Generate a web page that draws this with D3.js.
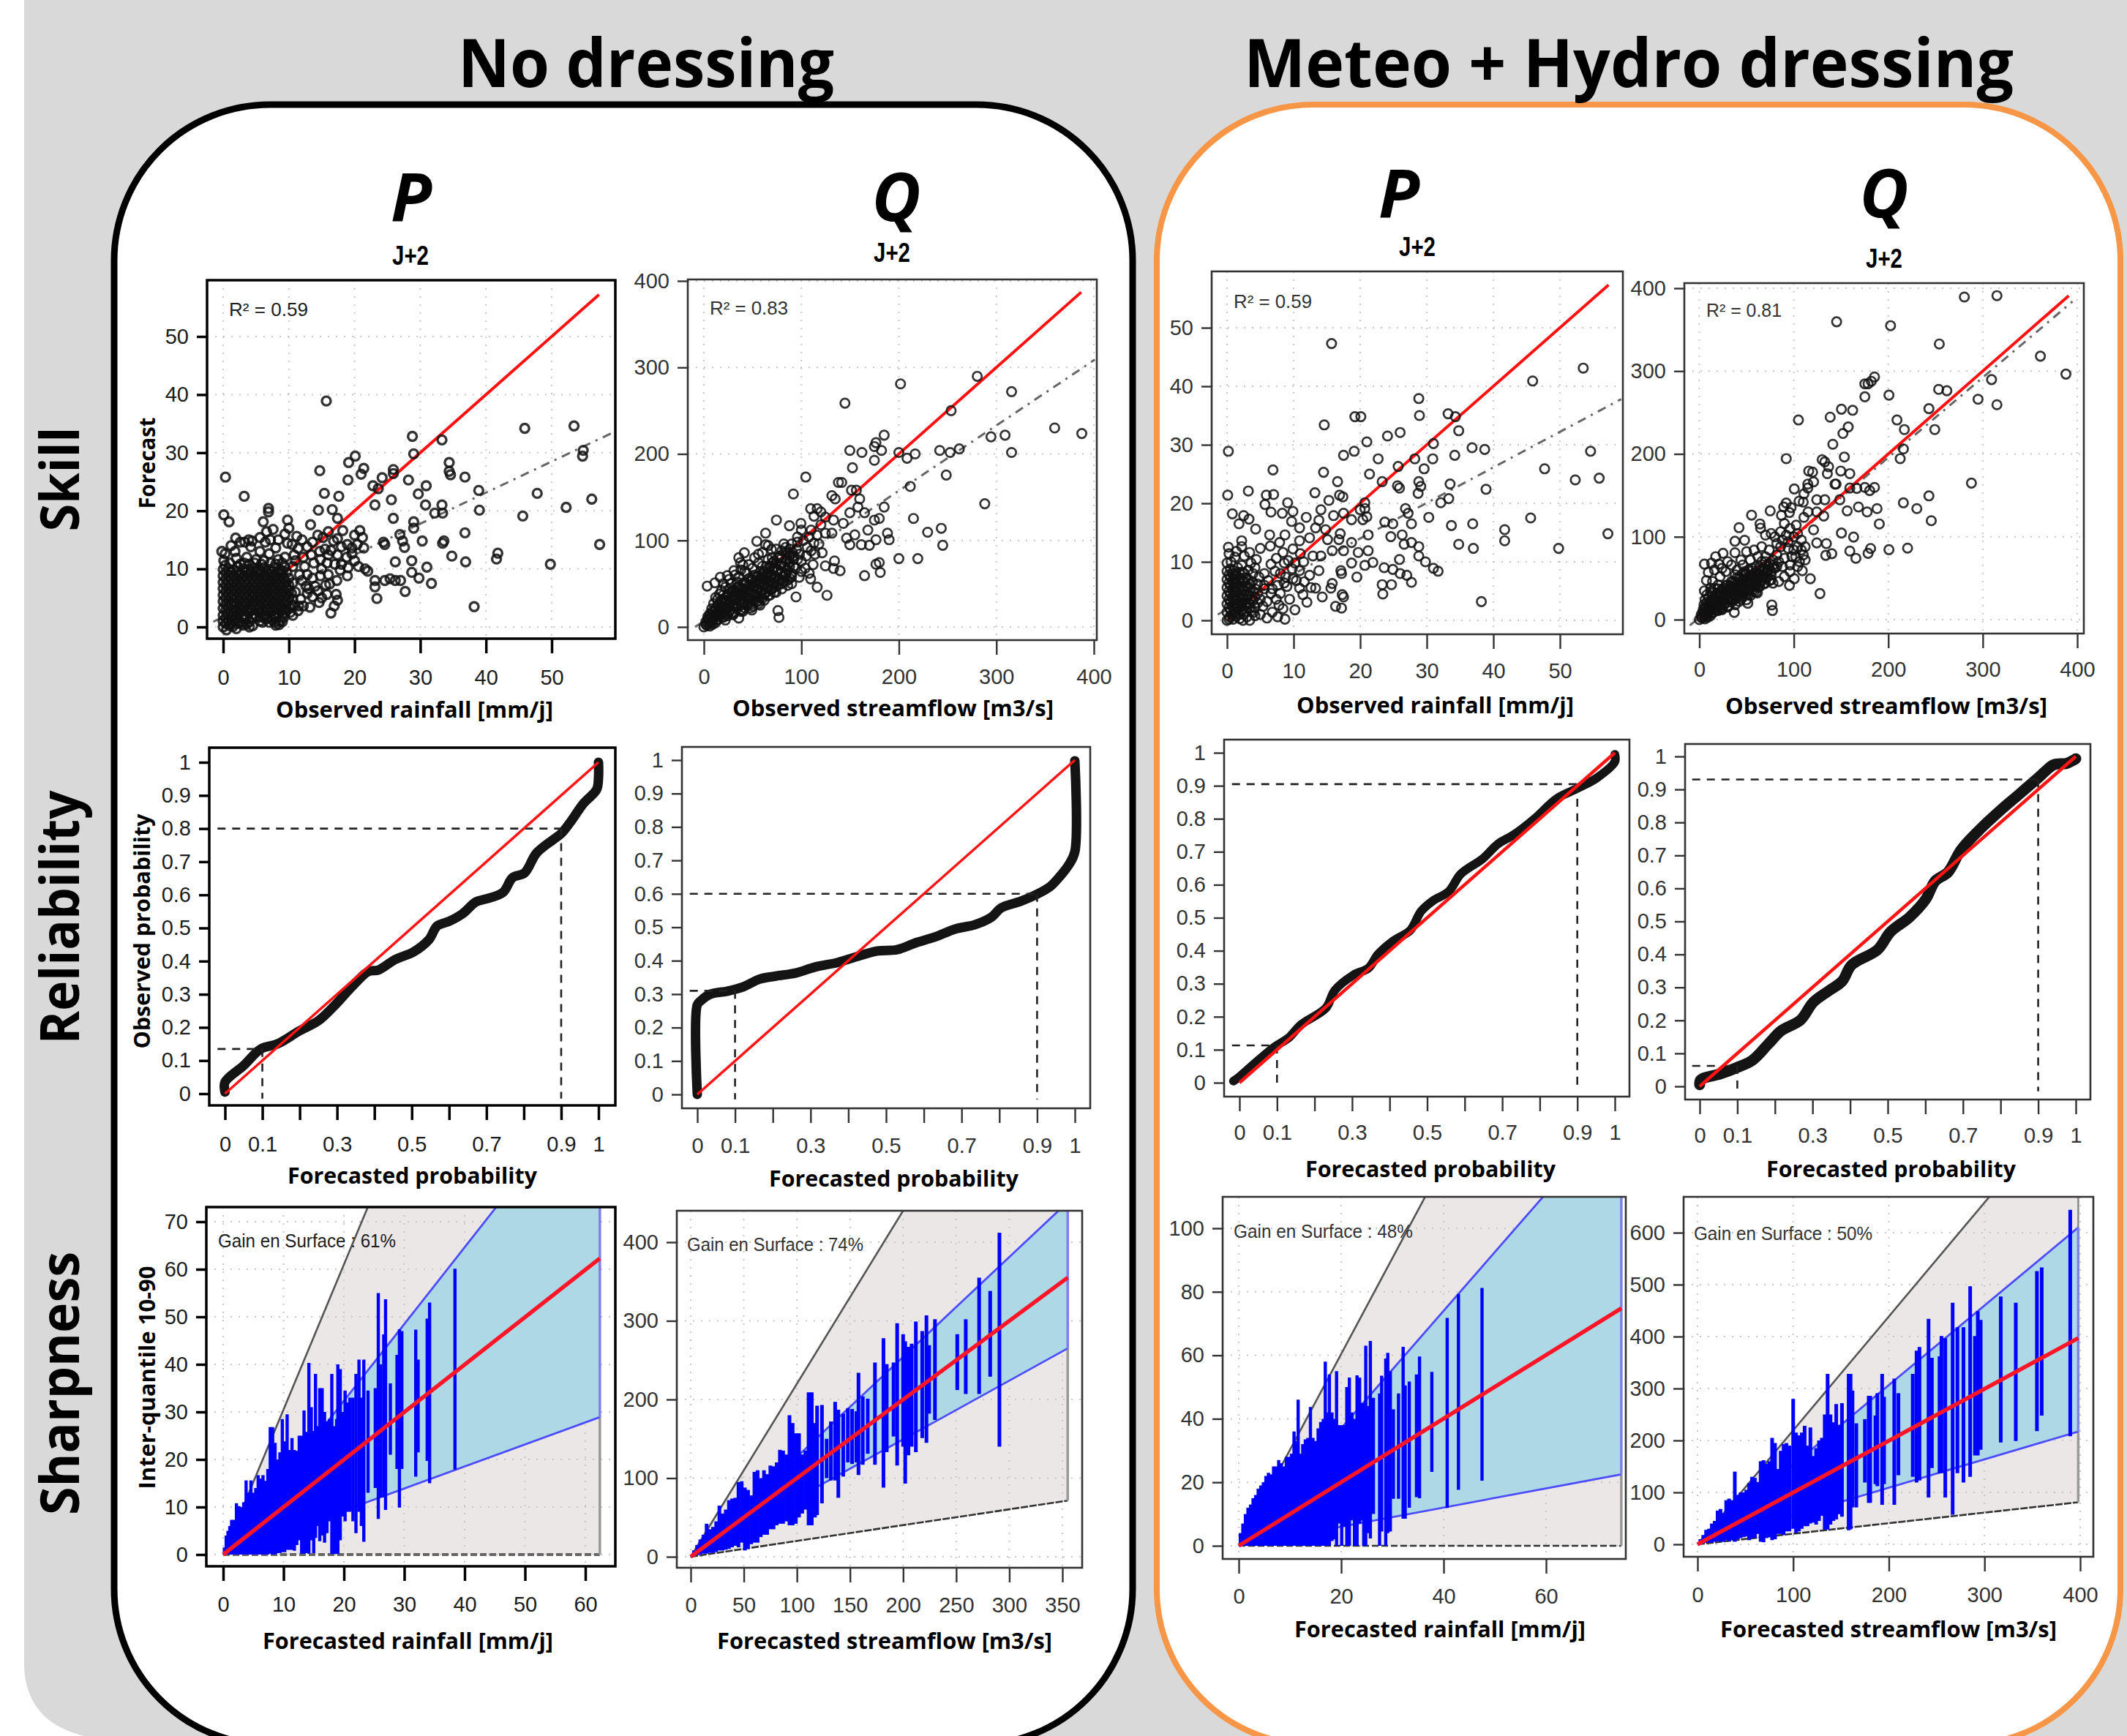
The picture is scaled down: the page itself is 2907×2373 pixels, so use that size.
<!DOCTYPE html>
<html>
<head>
<meta charset="utf-8">
<script src="https://d3js.org/d3.v7.js"></script>
<style>
  html, body { margin: 0; padding: 0; background: #fff; }
  svg { display: block; }
</style>
</head>
<body>
<div id="my_dataviz"></div>
<script>

// scatter values, [observed, forecast]
const skillRainRaw = [
[.35,25.8],[3.2,22.5],[.1,19.3],[.9,18.1],[6.9,20.4],[6.9,19.8],[6.1,18.1],[1.9,15.3],[3.9,15],[9.8,18.4],[10,17],[14.7,26.9],[15.4,23],[14.5,20.1],[15.7,38.9],[17.6,22.5],[16.6,20.2],[17.4,18.7],[13.3,17.6],[19.1,28.3],[20.1,29.4],[19,25.3],[21.4,27.3],[21,26.3],[22.8,24.3],[24.2,25.7],[23.6,23.8],[23.1,21],[25.9,27.1],[25.9,26.4],[25.6,21.9],[25.9,18.7],[28.8,32.8],[29,29.8],[28.2,25.3],[29.7,22.9],[30.9,24.3],[30.8,21],[32.2,19.6],[33.3,32.2],[33.3,21],[33.4,19.6],[34.4,28.3],[34.6,26.2],[34.4,26.8],[36.8,25.8],[38.9,23.5],[39,20.1],[36.8,16.2],[36.9,11.2],[34.8,12.2],[33.6,14.8],[33.4,14.4],[30.3,14.8],[31,10.3],[31.7,7.5],[29.8,8.4],[27.7,6.1],[28.7,9.4],[28.7,11.4],[27.6,13.7],[26.9,15.9],[27.3,14.8],[29,18.1],[29,17],[26.2,11.2],[24.6,14.2],[24.4,14.6],[38.2,3.5],[41.8,12.7],[41.6,11.7],[45.9,34.2],[45.6,19.1],[47.8,23],[49.8,10.8],[52.2,20.6],[53.4,34.6],[54.7,29.4],[54.8,30.4],[56.1,22],[57.3,14.2],[23.1,6.9],[23.4,4.9],[24.6,8],[26.2,8],[27,8],[23.1,8],[25.4,8.3],
[10.5,14.2],[11.4,13.5],[12,15],[12.8,13.8],[13.6,14.6],[14.4,15.8],[15.2,15.4],[16,16.4],[16.8,14.8],[15.5,13.4],[14.7,13],[16.4,13.2],[17.4,15.2],[18.2,16.6],[18.9,14.2],[20,15.8],[20.8,16.6],[21.2,15.4],[20.4,14.2],[21.4,13.6],[19.6,12.6],[18.8,12],[20,11.4],[19,10.2],[20.6,10.4],[21.6,10],[22,9.6],[18,10.8],[17,10.8],[17.8,9.8],[18.9,8.8],[17.3,8],[17.2,5.6],[17.4,4.6],[16.9,3.6],[16.4,2.4],[15,5],[15.6,7.2],[14.4,6.2],[13.6,5.2],[12.2,3.6],[10.6,2],[11.8,4.8],[12.6,7],[13.6,8.4],[14.8,8.8],[11,6],[10.6,7.6],[11.6,9],[12.4,10.4],[10.6,10.4],[13.8,11],[12.2,12],[10.8,12.4],[14.8,11.6],[16,12.4],
[11,11.4],[12.8,9],[13.4,12.4],[15,10],[16,9],[15.8,11],[17.4,12.4],[14,7],[12.8,5.8],[14.6,4.2],[13.2,3.4],[11.4,2.8],[10.8,3.6],[12,8],[13,6.6],[15.8,5.6],[16.2,7.4],[18,13.8],[19.6,13.6],[11.2,15.6],[9.4,16],[7.6,16.8],[5.6,15.4],[2.6,14.6],[1.2,14],[6.6,16.4],
[-.2,13],[.3,12.6],[.1,11.4],[1.8,13],[2,11.8],[2.6,10.8],[3.3,14.6],[4.4,14.8],[4.2,13.8],[3.6,12],[5,11.6],[5.6,13],[6.4,14.6],[7.2,15],[8.4,15],[8,13.6],[7,12.6],[6.2,11.4],[8.4,11.6],[9.4,12],[9.8,14.4],
[0,0],[.5,-.5],[1,.2],[1.5,.1],[2,-.3],[3,.3],[4,0],[4.5,.2],[8,.3],[8.5,.4],[0,1],[.8,1.2],[1.6,1],[2.4,.8],[3.2,1.3],[4,.9],[5,1.8],[6.6,1.4],[7.5,1.2],[8.6,1],[9.2,1.6],
[0,2],[.7,2.3],[1.5,2],[2.3,2.4],[3.1,2],[3.9,2.5],[4.7,2.2],[5.5,2.6],[6.3,2],[7,2.6],[7.8,2.2],[8.7,2.7],[9.5,2.5],[10.2,2.5],
[0,3.2],[.8,3.3],[1.6,3],[2.4,3.5],[3.2,3.2],[4,3.4],[4.8,3.4],[5.6,3.6],[6.4,3.2],[7.2,3.5],[8,3.3],[8.8,3.6],[9.6,3.2],[10.5,3.8],[11.5,3.6],
[0,4.4],[.9,4.5],[1.7,4.2],[2.5,4.6],[3.3,4.3],[4.1,4.5],[4.9,4.4],[5.7,4.7],[6.5,4.4],[7.3,4.6],[8.1,4.4],[8.9,4.7],[9.7,4.4],[10.6,4.8],
[0,5.5],[.8,5.6],[1.6,5.4],[2.4,5.7],[3.2,5.5],[4,5.6],[4.8,5.5],[5.6,5.8],[6.4,5.5],[7.2,5.7],[8,5.5],[8.8,5.8],[9.6,5.5],[10.4,5.8],
[0,6.6],[.9,6.7],[1.7,6.5],[2.5,6.8],[3.3,6.6],[4.1,6.8],[4.9,6.6],[5.7,6.9],[6.5,6.6],[7.3,6.8],[8.1,6.6],[8.9,6.9],[9.7,6.7],
[0,7.7],[.8,7.8],[1.6,7.6],[2.4,7.9],[3.2,7.7],[4,7.9],[4.8,7.7],[5.6,8],[6.4,7.7],[7.2,7.9],[8,7.7],[8.8,8],[9.6,7.7],
[0,8.8],[.9,8.9],[1.7,8.7],[2.5,9],[3.3,8.8],[4.1,9],[4.9,8.8],[5.7,9.1],[6.5,8.8],[7.3,9],[8.1,8.8],[8.9,9.1],[9.7,9.4],
[0,9.9],[.8,10],[1.6,9.8],[3,10],[3.8,9.9],[4.6,10.1],[5.4,9.9],[6.2,10.2],[7,9.9],[7.8,10.2],[8.6,9.9],[9.4,10.3],
[.4,.6],[1.2,.7],[2,.6],[2.8,.7],[3.6,.5],[5.6,1],[6,.8],[7,.8],[7.9,.8],[9,.9],[.4,1.6],[1.2,1.7],[2,1.6],[2.8,1.7],[3.6,1.8],[4.4,1.6],[5.6,1.7],[6.2,1.6],[7.2,1.8],[8,1.7],[9,2],
[.4,2.8],[1.2,2.7],[2,2.8],[2.8,2.9],[3.6,2.8],[4.4,2.9],[5.2,3],[6,2.8],[6.8,3],[7.6,2.9],[8.4,3.1],[9.2,3],[.4,3.9],[1.2,3.9],[2,3.9],[2.8,4],[3.6,3.9],[4.4,4],[5.2,3.9],[6,4.1],[6.8,3.9],[7.6,4.1],[8.4,3.9],[9.2,4.1],[10.1,3.2],
[.4,5],[1.2,5],[2,5],[2.8,5.1],[3.6,5],[4.4,5.1],[5.2,5],[6,5.2],[6.8,5],[7.6,5.2],[8.4,5],[9.2,5.2],[10,5],[.4,6.1],[1.2,6.1],[2,6.1],[2.8,6.2],[3.6,6.1],[4.4,6.2],[5.2,6.1],[6,6.3],[6.8,6.1],[7.6,6.3],[8.4,6.1],[9.2,6.3],[10,6.2],
[.4,7.2],[1.2,7.2],[2,7.2],[2.8,7.3],[3.6,7.2],[4.4,7.3],[5.2,7.2],[6,7.4],[6.8,7.2],[7.6,7.4],[8.4,7.2],[9.2,7.4],[10,7.2],[.4,8.3],[1.2,8.3],[2,8.3],[2.8,8.4],[3.6,8.3],[4.4,8.4],[5.2,8.3],[6,8.5],[6.8,8.3],[7.6,8.5],[8.4,8.3],[9.2,8.5],[10,8.4],
[.4,9.4],[1.2,9.4],[2.2,9.5],[3.4,9.4],[4.2,9.5],[5,9.4],[5.8,9.6],[6.6,9.4],[7.4,9.6],[8.2,9.4],[9,9.6],[.3,10.6],[1,11],[2.2,10.4],[3.2,11],[4,10.8],[4.8,11],[5.8,10.8],[7.2,11],[8,10.8],[9,11]
];

const skillFlowRaw = [
[144.7,258.7],[201.7,281],[280.4,289.7],[315.6,272],[253.6,250],[359.8,230],[387.6,223.6],[308.9,221.7],[294.5,219.8],[315.6,201.7],[262,205.8],[252.6,201.7],[241.9,204],[216.7,200],[208.4,195],[200,201.7],[184.9,221.7],[176.5,213],[174.9,208.5],[182.2,204],[174.9,192.6],[162.1,201.7],[149.7,204],[152.4,184],[104.5,173.3],[138,167],[141.4,167],[248.6,175.6],[211.7,162.4],[151.4,158],[156.4,158],[91.8,153.7],[131.3,151.8],[134.7,148],[159.8,148],[184.9,138.6],[288.1,142.4],[158,138.6],[164.8,132],[149.7,132],[174.9,123.5],[179.9,125.4],[215,125.4],[243.5,114],[229.5,109.5],[245,94.4],[168.2,112],[188.3,108.4],[190,100.8],[176.5,100.8],[154.8,106.5],[146.4,102.7],[149.7,95],[161.5,95],[169.8,94.4],[200,79],[219.4,79],[179.9,74.4],[176.5,72.5],[180.9,63],[164.8,59.3],[139.7,65],[134,76.3],[133,67.6],[124.6,70.6],[121.3,85.7],[126.3,36.6],[116.2,46],[94.5,34.7],[76,18.9],[77,11],[109.5,55.5],[97.8,57.4],[74.4,123.5],[87.8,117],[99.5,119.7],[109.5,136.7],[116.2,136.7],[120,133],[113,128],[124.6,127],[133,123.5],[143,119.7],[124.6,108.4],[131.3,108.4],[112.9,97],[63.3,108.4],[54.3,99],[63.3,95],[69.3,89.5],[41.5,85.7],[35.8,80],[37.5,74.4],[3.4,47.2],[11.4,51],[16.8,57.4],[24,59.3],[30.8,65],[35.8,10.2],[49.2,19.6],[57.6,25.3],
[84,92],[88,90],[80,88],[86,85],[91,86],[82,96],[90,96],[95,90],[78,82],[85,78],[92,78],[98,84],[100,76],[105,82],[110,88],[102,100],[96,104],[108,104],[116,106],[106,92],[118,96],[112,72],[100,64],[94,68],[108,62],[88,70],[80,74],[76,66],[84,62],[90,58],[72,76],[66,78],[60,70],[52,80],[46,72],[42,64],[36,58],[28,50],[22,46],[16,38],[12,34],[70,44],[62,38],[56,30],[48,26],[40,18],[30,14],[22,8],[72,58],
[0,0],[3,2],[6,1],[9,3],[2,6],[5,8],[8,7],[12,5],[4,12],[7,14],[11,11],[15,9],[9,18],[13,16],[17,14],[20,11],[12,22],[16,20],[20,18],[24,15],[15,26],[19,24],[23,22],[27,19],[31,17],[18,30],[22,28],[26,26],[30,24],[34,21],[38,18],[22,34],[26,32],[30,30],[34,27],[38,25],[42,22],[26,38],[30,36],[34,34],[38,31],[42,29],[46,27],[50,24],[30,42],[34,40],[38,38],[42,36],[46,33],[50,31],[54,29],[36,46],[40,44],[44,42],[48,40],[52,37],[56,35],[60,33],[42,50],[46,48],[50,46],[54,44],[58,41],[62,39],[66,36],[48,54],[52,52],[56,50],[60,48],[64,45],[68,43],[72,40],[54,58],[58,56],[62,54],[66,52],[70,50],[74,47],[60,62],[64,60],[68,58],[72,56],[76,54],[80,50],[66,68],[70,66],[74,64],[78,62],[82,58],[86,54],[90,50],
[2,3],[5,4],[8,5],[4,9],[7,10],[10,9],[13,8],[6,15],[10,14],[14,13],[18,11],[8,21],[12,20],[16,18],[20,16],[24,13],[10,27],[14,25],[18,23],[22,21],[26,18],[30,15],[14,32],[18,31],[22,30],[26,28],[30,26],[34,24],[38,20],[20,37],[24,36],[28,34],[32,33],[36,30],[40,28],[44,25],[48,22],[28,41],[32,40],[36,39],[40,37],[44,35],[48,33],[52,30],[56,27],[34,46],[38,45],[42,43],[46,41],[50,39],[54,37],[58,34],[62,31],[40,51],[44,50],[48,48],[52,46],[56,44],[60,42],[64,40],[68,37],[46,56],[50,55],[54,53],[58,51],[62,49],[66,47],[70,44],[74,40],[52,60],[56,59],[60,57],[64,55],[68,53],[72,51],[76,48],[80,44],[58,64],[62,64],[66,62],[70,60],[74,58],[78,55],[82,52],[86,48],[64,70],[68,70],[72,68],[76,66],[80,63],[84,60],[88,56],[70,74],[74,74],[78,72],[82,70],[86,66],[90,62],[76,80],[80,80],[84,76],[88,74],[92,70],[84,86],[88,82],[92,82],[96,78],
[20,50],[26,55],[32,60],[38,66],[44,62],[50,68],[56,74],[40,72],[34,52],[26,44],[18,42],[60,86],[70,80],[74,90],[66,94],[56,84],[104,68],[114,84],[96,98],[120,118],[110,112],[100,112]
];

const skillRainDressed = [
[.2,28.9],[.1,21.4],[3.2,22.1],[.8,18.2],[6.9,25.7],[5.9,21.4],[7,21.5],[5.7,19.8],[6.6,18.5],[9.1,20.1],[9.9,18.6],[8.3,18.3],[2.5,17.9],[3.3,17.3],[1.8,16.5],[4.3,15.6],[6.4,14.6],[2.2,13.6],[8.7,14.6],[7.9,13.3],[6.5,12.7],[5,12.3],[15.7,47.3],[14.6,33.4],[19.2,34.8],[20.1,34.8],[28.8,37.9],[28.9,35],[33.2,35.3],[34.3,34.8],[34.8,32.4],[26,32.1],[24.1,31.5],[21,30.5],[31,30.2],[19.1,28.9],[17.5,28.2],[22.7,27.6],[28.2,27.6],[30.9,27.6],[34.2,28.2],[36.8,29.5],[38.7,29.2],[25.7,26.3],[29.6,25.9],[14.5,25.3],[21.4,25],[16.6,23.7],[23.3,23.7],[28.8,23.7],[25.6,23],[25.9,22.6],[29.1,22.9],[33.5,23.3],[28.7,21.7],[38.9,22.4],[13.2,21.8],[16.9,21.4],[17.4,21.1],[15.3,20.5],[20.7,20.1],[33.3,20.8],[32.1,20.1],[26.8,19.1],[20.7,19.1],[20,18.9],[14.1,18.9],[17.5,18.3],[27.2,18.3],[21,17.7],[30.3,17.6],[11.9,17.6],[16,17.9],[18.7,17.2],[20.4,17.2],[13.8,17.1],[23.7,16.8],[24.9,16.5],[27.7,16.5],[33.7,16.2],[36.9,16.5],[41.7,15.5],[45.6,17.5],[41.7,13.6],[45.9,40.9],[53.5,43.1],[54.6,28.9],[47.7,25.9],[52.3,24],[55.9,24.3],[57.2,14.8],[49.8,12.3],[34.8,13],[37,12.3],[38.2,3.2],[21.2,14.6],[24.6,14.3],[26.3,14.6],[26.6,13],[27.7,13.3],[28.8,12.6],[28.8,11],[29.8,10],[31,8.9],[31.7,8.4],[25.9,10.4],[23.6,9],[24.9,8.7],[26,8],[27,7.7],[27.7,6.5],[24.7,6.1],[23.3,6.1],[23.4,4.5],[19.5,7.4],[18.7,9.8],[17.1,8.5],[17.3,4.4],[17.5,4],[16.3,2.4],[17.2,2.1],[12,3.1],[10.2,1.8],[8.7,.2],[21.9,9.9],[20.7,9.4],[21.2,11.9],[19.7,11.6],[18.7,13.3],[17.5,11.9],[15.8,11.9],[16.8,13.8],[15.1,13.8],[12.9,11],[14.1,11],[13.8,8.5],[13.3,5.5],[14.3,4],[15.6,5.5],[15.8,6.3],[10.9,5.5],[10.9,8.5],[12.4,7.7],[9.9,7.1],[9.9,12.2],[10.9,13.6],[12.4,14.1],[10.9,15.8],[9.7,16.9],[13.3,15.8],[14.8,15.5],[17,14.8],[17.2,8],[11.5,10],[8.6,9.8],[8,8],[9,5.8],[7.4,3.6],[6.8,1.4],[8.4,2],[9.4,3.6],[7.6,6],[6.6,9.6],[5.6,8],[4.4,10.4],[3.4,11.6],[2.2,12.6],[.2,12.5],[.3,11.4],[1.2,10.8],[6.6,4.6],[5.4,2.4],[4.2,.8],[3.4,0],[2.4,0],
[7.4,10.6],[8.4,11.6],[9.2,10.2],[10.2,9.8],[11,11.4],[8.8,7.4],[9.8,8.8],[10.4,6.8],[11.4,4.4],[12.6,5.6],[11.6,6.6],[7.2,8.4],[6.2,6.8],[5.6,6],[6.8,5.4],[8,4.6],[8.6,6.4],[7.8,2.6],[6,3.2],[5,1],[6,.4],[7.6,.6],[4.8,7.4],[4.2,9],[3.6,9.8],[1.4,11.8],[2.6,11],
[0,0],[.4,.6],[.9,.2],[1.4,.7],[1.9,.3],[2.5,1],[3,.6],[3.6,1.6],[4.2,2.2],[5,3.6],[5.6,5.4],[0,1.4],[.5,1.8],[1,1.5],[1.6,2],[2.1,1.6],[2.7,2.4],[3.3,2.8],[3.9,3.4],[4.6,4.6],[0,2.8],[.5,3.2],[1,2.9],[1.5,3.4],[2,3],[2.6,3.6],[3.2,4.2],[3.9,5],[4.6,6.2],[0,4.2],[.5,4.6],[1,4.3],[1.5,4.8],[2,4.4],[2.6,5],[3.2,5.6],[3.8,6.6],[0,5.6],[.5,6],[1,5.7],[1.5,6.2],[2,5.8],[2.6,6.6],[3.2,7],[3.9,8],[0,7],[.5,7.4],[1,7.1],[1.5,7.6],[2,7.2],[2.6,8],[3.2,8.6],[0,8.4],[.5,8.8],[1,8.5],[1.6,9],[2.2,9.4],[0,9.8],[.6,10],
[.3,.2],[.8,.9],[1.3,1.2],[1.8,1],[2.3,1.8],[2.9,1.6],[3.4,2.2],[4,1.4],[4.6,3],[.3,2.2],[.8,2.4],[1.3,2.2],[1.8,2.6],[2.3,2.7],[2.9,3],[3.5,3.6],[4.2,4],[.3,3.6],[.8,3.8],[1.3,3.6],[1.8,3.9],[2.3,3.8],[2.9,4.4],[3.5,5],[4.2,5.4],[.3,5],[.8,5.2],[1.3,5],[1.8,5.4],[2.3,5.2],[2.9,5.8],[3.5,6.2],[.3,6.4],[.8,6.6],[1.3,6.4],[1.8,6.8],[2.3,6.6],[2.9,7.2],[.3,7.8],[.8,8],[1.3,7.9],[1.8,8.2],[2.3,8.2]
];

const skillFlowDressed = [
[280.5,389.4],[315,391],[145.3,359.5],[202.4,354.8],[254,332.7],[361,318],[388,296.4],[309.3,289.7],[185.4,292.9],[182,287.7],[175.2,284.6],[178.6,284.6],[175.2,269],[200.7,271],[253.3,277.9],[262,276.3],[295,266],[315,259.4],[150.4,254],[162.3,252.7],[243,254.6],[138.5,244.4],[104.9,241],[209.2,241],[217,229.4],[249.2,229.4],[157.6,232.6],[152,224.7],[141.3,211.7],[216,206],[212.6,194.3],[153.5,196.3],[92,194.3],[130,193],[132.8,190.4],[136.8,184.5],[115.8,179.3],[119.9,178],[135.5,176.2],[149.7,179.3],[159.3,176.2],[120.9,166.3],[114.8,163.6],[114.8,158.8],[143.6,163.6],[144.7,163.6],[100.5,157.7],[159.3,158.8],[166.7,158.4],[175.2,159.6],[180.3,155.7],[185.4,159.6],[288,164.8],[243,149.4],[110.7,151.8],[105.6,143],[110,141.9],[124.3,144.7],[132.8,144.7],[148.7,144.7],[92,140.7],[89.3,136],[97.1,135.2],[95.4,129.3],[115.1,130],[124.3,130],[156.5,131.3],[168.4,136],[177.6,130],[188.1,134],[216,141],[230.2,134],[245.5,119.4],[190.5,115.5],[131.7,125],[110.7,123.4],[75,131.3],[55.3,126.1],[86.9,126],[102.5,114],[42,111],[64.2,115.5],[64.8,110.4],[120.9,108.4],[150.4,104.5],[163.3,99.7],[124.3,92.6],[134.5,91.8],[133.8,77.6],[140.2,79.6],[159.3,82.8],[165.7,74],[178.6,80],[181.3,85.9],[200.7,84.4],[220.4,86.3],[37.7,94.6],[37.7,80.8],[47.9,95.8],[5.4,67],[12.9,68.2],[17.3,76],[25.1,80],[9.5,57],[7.5,47.3],[5.4,34.7],[20.7,67],[117.5,49.3],[127.7,31.5],[95.4,41.4],[100.5,49.3],[109,59],[76.7,17.7],[77.4,11],[37,8.7],[51.3,19.7],[61.5,32.3],
[86,106],[92,102],[80,100],[76,104],[70,102],[96,110],[90,116],[100,100],[108,96],[112,88],[110,78],[106,70],[112,72],[104,64],[96,58],[90,52],[84,46],[78,44],[94,86],[86,88],[82,78],[90,74],[98,76],[74,84],[66,88],[58,84],[50,82],[44,72],[34,66],[28,58],[22,52],[14,46],[12,38],[60,46],[52,36],[44,30],[36,24],[30,16],[24,12],[72,60],[80,62],[66,52],[56,62],[48,58],[38,54],
[0,0],[3,2],[6,1],[9,3],[2,6],[5,8],[8,7],[12,5],[4,12],[7,14],[11,11],[15,9],[5,18],[9,18],[13,16],[17,14],[20,11],[6,24],[12,22],[16,20],[20,18],[24,15],[8,30],[15,26],[19,24],[23,22],[27,19],[31,17],[12,34],[18,30],[22,28],[26,26],[30,24],[34,21],[38,18],[16,38],[22,34],[26,32],[30,30],[34,27],[38,25],[42,22],[20,42],[26,38],[30,36],[34,34],[38,31],[42,29],[46,27],[50,24],[30,42],[34,40],[38,38],[42,36],[46,33],[50,31],[54,29],[36,46],[40,44],[44,42],[48,40],[52,37],[56,35],[60,33],[42,50],[46,48],[50,46],[54,44],[58,41],[62,39],[48,54],[52,52],[56,50],[60,48],[64,45],[68,43],[58,56],[62,54],[66,52],[70,50],[74,47],[64,60],[68,58],[72,56],[76,54],[74,64],[78,62],
[2,3],[5,4],[8,5],[4,9],[7,10],[10,9],[13,8],[6,15],[10,14],[14,13],[18,11],[8,21],[12,20],[16,18],[20,16],[24,13],[10,27],[14,25],[18,23],[22,21],[26,18],[30,15],[14,32],[18,31],[22,30],[26,28],[30,26],[34,24],[20,37],[24,36],[28,34],[32,33],[36,30],[40,28],[44,25],[28,41],[32,40],[36,39],[40,37],[44,35],[48,33],[52,30],[34,46],[38,45],[42,43],[46,41],[50,39],[54,37],[58,34],[40,51],[44,50],[48,48],[52,46],[56,44],[60,42],[64,40],[46,56],[50,55],[54,53],[58,51],[62,49],[66,47],[70,44],[52,60],[56,59],[60,57],[64,55],[68,53],[72,51],[76,48],[60,64],[64,64],[68,62],[72,60],[76,58],[66,70],[70,70],[74,68],[78,66],[82,64],
[16,60],[30,70],[24,62],[40,60],[46,66],[54,72],[62,76],[70,76],[78,72],[84,70],[88,64],[82,92],[88,96],[94,94],[104,88],[100,84],[108,84],[96,66],[102,76],[104,104]
];

// reliability curves, [forecasted probability, observed probability]
const relRainRaw = [[0,.005],[0,.035],[.05,.085],[.096,.135],[.14,.15],[.2,.19],[.25,.22],[.295,.268],[.34,.323],[.384,.369],[.41,.373],[.456,.405],[.505,.428],[.546,.465],[.568,.506],[.6,.52],[.636,.543],[.672,.579],[.7,.588],[.744,.607],[.77,.652],[.802,.666],[.834,.726],[.879,.767],[.9,.785],[.923,.817],[.96,.876],[.995,.918],[1,.955],[1,1]];
const relFlowRaw = [[0,0],[0,.268],[.01,.281],[.035,.3],[.08,.309],[.122,.322],[.165,.345],[.208,.354],[.26,.363],[.312,.381],[.373,.395],[.425,.413],[.477,.429],[.529,.433],[.58,.454],[.632,.472],[.684,.495],[.736,.508],[.78,.531],[.805,.558],[.857,.578],[.9,.599],[.935,.622],[.961,.653],[.983,.685],[1,.726],[1,.998]];
const relRainDressed = [[-.016,.005],[0,.018],[.05,.068],[.094,.109],[.131,.136],[.164,.176],[.23,.226],[.254,.28],[.303,.326],[.344,.348],[.369,.389],[.41,.43],[.455,.462],[.484,.52],[.516,.552],[.557,.579],[.59,.633],[.648,.679],[.689,.724],[.73,.751],[.787,.801],[.844,.86],[.898,.891],[.951,.923],[1,.973],[1,.995]];
const relFlowDressed = [[0,.005],[.003,.02],[.055,.038],[.097,.056],[.14,.079],[.183,.129],[.217,.169],[.268,.201],[.302,.255],[.345,.291],[.379,.319],[.404,.368],[.473,.414],[.507,.468],[.558,.513],[.601,.567],[.626,.622],[.66,.649],[.695,.717],[.746,.78],[.797,.834],[.848,.884],[.899,.934],[.942,.975],[.976,.979],[1,.993]];

// dashed guides: observed probability reached at p=0.1 and p=0.9
const guideRainRaw = [.135, .8];
const guideFlowRaw = [.31, .6];
const guideRainDressed = [.113, .905];
const guideFlowDressed = [.062, .93];

// sharpness bars, [forecast, low, high]
const sharpRainRaw = [
[.2,0,1.5],[.5,0,4],[.8,0,5],[1.1,0,6],[1.4,0,7.3],[1.8,0,7.3],[2.2,0,10.8],[2.6,0,10.2],[3,0,10],[3.4,0,11],[3.8,0,15.6],[4.2,0,13],[4.6,0,15.6],[5,0,13],[5.4,0,14],[5.8,0,16.7],[6.2,0,16],[6.6,0,16.7],[7,0,15.5],[7.4,0,18],[7.8,.2,26.8],[8.2,0,26.8],[8.6,0,23.5],[9,.3,20],[9.4,.3,21.5],[9.8,.5,28.5],[10.2,.5,23.8],[10.6,1,29.5],[11,1,22],[11.4,1,24.5],[11.8,.8,22],[12.2,2,21.8],[12.6,3,25],[13,.2,25],[13.4,.2,30.3],[13.8,.3,25.8],[14.2,.2,40.3],[14.6,3,31],[15,.3,26],[15.3,3.5,38],[15.7,6,27],[16,2.8,35],[16.4,4,35],[16.8,2.5,30],[17.2,4.5,28],[17.6,7,28.5],[18,.1,38],[18.4,.1,27],[18.8,.2,28.5],[19,.1,40],[19.4,3,39],[19.8,8,30],[20.2,7,34.5],[20.6,9,32],[21,9,33],[21.5,7,33],[22,4.5,38],[22.5,9,41],[22.9,6,33],[23.3,2.7,41],[24,13,34.5],[25.2,14,35],[25.7,7.5,55],[26.1,12,40],[26.6,12,46.3],[26.9,9.4,53.7],[27.7,21,36],[28.8,18,42],[29.2,9.9,47.4],[29.6,18,47],[31.9,16.4,47.3],[32.3,21.5,41],[33.8,19.7,49.6],[34.2,15,53],[38.4,17.9,60.1]
];

const sharpFlowRaw = [
[3,1,8],[6,2,15],[9,3,22],[12,4,28],[15,4,42],[18,5,35],[21,5,38],[24,6,45],[27,8,65],[30,8,55],[33,9,60],[36,10,72],[39,12,74],[42,14,75],[45,12,95],[48,18,96],[51,8,88],[54,10,85],[57,16,78],[60,18,108],[63,18,110],[66,25,100],[69,28,110],[72,28,105],[75,35,116],[78,35,115],[81,40,120],[84,42,136],[87,42,135],[90,45,130],[93,40,180],[96,40,170],[99,42,157],[102,50,157],[105,55,130],[108,60,135],[111,40,209],[114,40,209],[117,50,170],[119,53,192],[123.6,68,193],[128,100,150],[132,97,172],[136,97,197],[139,75,187],[143.6,102,182],[148,120,189],[152,118,188],[156,120,185],[158,104,234],[162,117,204],[166.7,131,201],[173.5,117,247],[181.5,88,278],[184.6,133,245],[191,153,247],[194.4,116,297],[200,140,283],[202,93,274],[205,129,267],[208,140,271],[212,133,299],[218,151,287],[222,145,307],[224.5,182,269],[230,174,302],[251,212,283],[259,207,302],[271.6,207,355],[282,229,338],[290.7,140,412]
];

const sharpRainDressed = [
[.3,0,4],[.8,0,7],[1.3,0,10],[1.8,0,12],[2.3,0,13],[2.8,0,15],[3.3,0,16],[3.8,0,18],[4.3,0,19],[4.8,0,20],[5.3,0,22],[5.8,0,23],[6.3,0,22.5],[6.8,0,25],[7.3,0,25],[7.8,0,27],[8.3,0,26],[8.8,0,25],[9.3,0,28],[9.8,0,28],[10.3,0,29],[10.8,0,36],[11.3,0,33],[11.6,0,46],[12,0,29],[12.5,0,32],[13,0,33.5],[13.5,0,34],[14,0,43.7],[14.5,0,34],[15,0,33],[15.5,0,37],[16,0,39],[16.5,0,40],[16.9,0,58],[17.3,0,42],[17.7,0,54],[18.2,1.5,42],[18.7,2,40],[19.1,0,55],[19.6,7,38],[20.1,0,38],[20.6,6,38],[21.1,0,50],[21.6,0,53],[22.1,8,42],[22.6,0,40],[23.1,0,53.7],[23.6,7,53],[24,8,45],[24.4,0,45],[24.8,0,63],[25.2,4,44],[25.7,2.3,64.5],[26.3,10,46.6],[27.5,0,48],[27.9,4.5,53.6],[28.7,0,59],[29.1,4,60.8],[29.6,4.5,55],[30.2,14.8,43],[31.2,14.8,48],[32.1,8.5,62.7],[32.5,8.5,50.5],[33.3,12,51.7],[34.7,15.3,54],[35.3,15,59.6],[37.7,23.3,54.8],[40.7,11.9,71.8],[42.9,17.6,79.3],[47.5,20.5,81.2]
];

const sharpFlowDressed = [
[3,1,10],[6,2,18],[9,3,28],[12,3,30],[15,3,40],[18,5,45],[21,6,65],[24,5,68],[27,5,60],[30,8,85],[33,6,88],[36,8,85],[39,5,140],[42,10,95],[45,12,100],[48,14,100],[51,15,105],[54,8,118],[57,12,130],[60,12,128],[63,20,120],[66,5,160],[69,4,162],[72,12,155],[75,14,160],[78,8,205],[81,10,195],[84,20,145],[87,20,180],[90,18,193],[93,25,195],[96,25,190],[100,30,280],[103,22,215],[106,25,210],[109,30,215],[112,35,228],[115,35,190],[118,40,225],[121,42,170],[124,38,185],[127,45,200],[130,55,205],[133,28,250],[136,28,328],[139,38,250],[142,45,235],[145,48,270],[148,58,230],[151,53,272],[158,27,328],[160,29,328],[162,71,296],[166,71,233],[175,119,241],[179,80,286],[180.5,80,286],[186,116,248],[188,112,291],[193,76,328],[195,116,284],[205.7,76,319],[210,133,291],[225,130,328],[229,119,373],[232,123,380],[241.5,90,434],[245,147,359],[253,137,362],[255,137,401],[259,90,397],[266.7,57,465],[271.7,137,418],[278,119,418],[285,130,497],[290,171,401],[293,171,449],[296,182,432],[317,196,477],[332.7,199,465],[354.8,218,526],[359.8,248,533],[389.6,208,644]
];

// end of forecast range and the values of the envelope lines there
const sharpEnds = {
  rainRaw:     {xEnd: 62.4,  red: 62.3,  blueHi: 100.8, blueLo: 28.9, greyHi: 190.3, greyLo: 0},
  flowRaw:     {xEnd: 355,   red: 355,   blueHi: 451,   blueLo: 265,  greyHi: 781,   greyLo: 71.4},
  rainDressed: {xEnd: 74.7,  red: 74.8,  blueHi: 138.2, blueLo: 22.5, greyHi: 225.6, greyLo: 0},
  flowDressed: {xEnd: 398,   red: 397,   blueHi: 610,   blueLo: 217,  greyHi: 873,   greyLo: 81}
};

const probTicks = [0,.1,.2,.3,.4,.5,.6,.7,.8,.9,1];
const probLabels = [0,.1,.3,.5,.7,.9,1];

// panel frames in page pixels
const panels = [
  {kind:"skill", data:skillRainRaw, frame:[283,383,841,873], xd:[0,50], xr:[305,754], yd:[0,50], yr:[857,460], xt:d3.range(0,51,10), yt:d3.range(0,51,10), red:57.2, reg:[[-1.5,.9],[59,33.3]], note:"R² = 0.59", noteBox:[313,432,108], title:[561,362], xlab:"Observed rainfall [mm/j]", xl:[377,756,981], lblY:936, ylab:"Forecast", yl:[212,633,125], col:0},
  {kind:"skill", data:skillFlowRaw, frame:[940,382,1499,875], xd:[0,400], xr:[962,1495], yd:[0,400], yr:[857,384], xt:d3.range(0,401,100), yt:d3.range(0,401,100), red:387, reg:[[-9,0],[401,309]], note:"R² = 0.83", noteBox:[970,430,107], title:[1219,358], xlab:"Observed streamflow [m3/s]", xl:[1001,1440,979], lblY:935, col:1},
  {kind:"skill", data:skillRainDressed, frame:[1656,371,2218,867], xd:[0,50], xr:[1677,2132], yd:[0,50], yr:[848,448], xt:d3.range(0,51,10), yt:d3.range(0,51,10), red:57.3, reg:[[-1.4,1],[59.2,37.8]], note:"R² = 0.59", noteBox:[1686,421,107], title:[1937,350], xlab:"Observed rainfall [mm/j]", xl:[1772,2151,975], lblY:927, col:2},
  {kind:"skill", data:skillFlowDressed, frame:[2302,387,2848,866], xd:[0,400], xr:[2322.5,2839], yd:[0,400], yr:[847,394], xt:d3.range(0,401,100), yt:d3.range(0,401,100), red:391, reg:[[-10,-7],[395,384]], note:"R² = 0.81", noteBox:[2332,433,103], title:[2575,366], xlab:"Observed streamflow [m3/s]", xl:[2358,2798,976], lblY:925, col:3},

  {kind:"rel", data:relRainRaw, guide:guideRainRaw, frame:[286,1022,841,1511], xd:[0,1], xr:[307.5,818], yd:[0,1], yr:[1495,1042], xlab:"Forecasted probability", xl:[393,734,1618], lblY:1574, ylab:"Observed probability", yl:[205,1273,321], col:0, w:13},
  {kind:"rel", data:relFlowRaw, guide:guideFlowRaw, frame:[932,1021,1490,1515], xd:[0,1], xr:[953,1469], yd:[0,1], yr:[1496,1039], xlab:"Forecasted probability", xl:[1051,1392,1622], lblY:1576, col:1, w:13},
  {kind:"rel", data:relRainDressed, guide:guideRainDressed, frame:[1673,1011,2227,1499], xd:[0,1], xr:[1694,2207], yd:[0,1], yr:[1480,1029], xlab:"Forecasted probability", xl:[1784,2126,1609], lblY:1558, col:2, w:12},
  {kind:"rel", data:relFlowDressed, guide:guideFlowDressed, frame:[2303,1017,2857,1503], xd:[0,1], xr:[2323,2837], yd:[0,1], yr:[1485,1034], xlab:"Forecasted probability", xl:[2414,2755,1609], lblY:1562, col:3, w:15},

  {kind:"sharp", data:sharpRainRaw, ends:sharpEnds.rainRaw, frame:[282,1650,841,2141], xd:[0,60], xr:[305,800], yd:[0,70], yr:[2125,1670], xt:d3.range(0,61,10), yt:d3.range(0,71,10), note:"Gain en Surface : 61%", noteBox:[298,1705,243], xlab:"Forecasted rainfall [mm/j]", xl:[359,756,2254], lblY:2203, ylab:"Inter-quantile 10-90", yl:[212,1883,305], col:0, w:4.4},
  {kind:"sharp", data:sharpFlowRaw, ends:sharpEnds.flowRaw, frame:[925,1655,1479,2143], xd:[0,350], xr:[944,1452], yd:[0,400], yr:[2128,1698], xt:d3.range(0,351,50), yt:d3.range(0,401,100), note:"Gain en Surface : 74%", noteBox:[939,1710,241], xlab:"Forecasted streamflow [m3/s]", xl:[980,1438,2254], lblY:2204, col:1, w:5},
  {kind:"sharp", data:sharpRainDressed, ends:sharpEnds.rainDressed, frame:[1671,1636,2222,2131], xd:[0,60], xr:[1693,2113], yd:[0,100], yr:[2113,1679], xt:[0,20,40,60], yt:d3.range(0,101,20), note:"Gain en Surface : 48%", noteBox:[1686,1692,245], xlab:"Forecasted rainfall [mm/j]", xl:[1769,2167,2238], lblY:2192, col:2, w:4.4},
  {kind:"sharp", data:sharpFlowDressed, ends:sharpEnds.flowDressed, frame:[2301,1636,2861,2128], xd:[0,400], xr:[2320,2843], yd:[0,600], yr:[2111,1685], xt:d3.range(0,401,100), yt:d3.range(0,601,100), note:"Gain en Surface : 50%", noteBox:[2315,1695,244], xlab:"Forecasted streamflow [m3/s]", xl:[2351,2811,2238], lblY:2190, col:3, w:5}
];

const rowLabels = [["Skill",655,143],["Reliability",1254,347],["Sharpness",1891,360]];
const letters = [["P",562,302],["Q",1225,302],["P",1912,297],["Q",2575,297]];

const W = 2907, H = 2373;
const sansBold = "'Open Sans', 'Noto Sans', sans-serif";
const plotFont = "'Liberation Sans', Arial, sans-serif";
const tickFont = "'Liberation Sans Narrow', 'Liberation Sans', Arial, sans-serif";

const svg = d3.select("#my_dataviz").append("svg")
    .attr("width", W)
    .attr("height", H)
    .attr("viewBox", `0 0 ${W} ${H}`);

// grey slide background with its rounded lower left corner
svg.append("path")
    .attr("d", `M33,0 H${W} V${H} H115 Q33,${H-20} 33,${H-100} Z`)
    .attr("fill", "#d9d9d9");

// the two rounded boxes run past the bottom of the page
svg.append("rect")
    .attr("x", 156).attr("y", 143)
    .attr("width", 1392).attr("height", 2242)
    .attr("rx", 213).attr("ry", 213)
    .attr("fill", "#fff").attr("stroke", "#000").attr("stroke-width", 9);
svg.append("rect")
    .attr("x", 1581).attr("y", 143)
    .attr("width", 1317).attr("height", 2242)
    .attr("rx", 213).attr("ry", 213)
    .attr("fill", "#fff").attr("stroke", "#f79646").attr("stroke-width", 8);

function boldText(str, x0, x1, y, size) {
  return svg.append("text")
      .attr("x", x0).attr("y", y)
      .attr("textLength", x1 - x0)
      .attr("lengthAdjust", "spacingAndGlyphs")
      .style("font-family", sansBold)
      .style("font-weight", 700)
      .style("font-size", size + "px")
      .attr("fill", "#000")
      .text(str);
}

boldText("No dressing", 626, 1140, 119, 92);
boldText("Meteo + Hydro dressing", 1700, 2752, 119, 92);

letters.forEach(function(d) {
  svg.append("text")
      .attr("x", d[1]).attr("y", d[2])
      .attr("text-anchor", "middle")
      .style("font-family", sansBold)
      .style("font-weight", 700)
      .style("font-style", "italic")
      .style("font-size", "92px")
      .text(d[0]);
});

rowLabels.forEach(function(d) {
  svg.append("text")
      .attr("transform", `translate(108,${d[1]}) rotate(-90)`)
      .attr("text-anchor", "middle")
      .attr("textLength", d[2])
      .attr("lengthAdjust", "spacingAndGlyphs")
      .style("font-family", sansBold)
      .style("font-weight", 700)
      .style("font-size", "74px")
      .text(d[0]);
});

panels.forEach(function(p, i) {
  const [fx0, fy0, fx1, fy1] = p.frame;
  const x = d3.scaleLinear().domain(p.xd).range(p.xr);
  const y = d3.scaleLinear().domain(p.yd).range(p.yr);
  const heavy = p.col === 0;
  const ink = heavy ? "#000" : "#333";
  const textInk = heavy ? "#1c1c1c" : "#333";

  const clipId = "clip" + i;
  svg.append("clipPath").attr("id", clipId).append("rect")
      .attr("x", fx0).attr("y", fy0)
      .attr("width", fx1 - fx0).attr("height", fy1 - fy0);

  const g = svg.append("g").attr("clip-path", `url(#${clipId})`);

  function grid(layer) {
    const xt = p.xt || [];
    const yt = p.yt || [];
    layer.selectAll(null).data(xt).enter().append("line")
        .attr("x1", d => x(d)).attr("x2", d => x(d))
        .attr("y1", fy0).attr("y2", fy1)
        .attr("stroke", "#c8c8c8").attr("stroke-width", 2).attr("stroke-dasharray", "2,9");
    layer.selectAll(null).data(yt).enter().append("line")
        .attr("y1", d => y(d)).attr("y2", d => y(d))
        .attr("x1", fx0).attr("x2", fx1)
        .attr("stroke", "#c8c8c8").attr("stroke-width", 2).attr("stroke-dasharray", "2,9");
  }

  if (p.kind === "skill") {
    grid(g);

    g.append("line")
        .attr("x1", x(p.reg[0][0])).attr("y1", y(p.reg[0][1]))
        .attr("x2", x(p.reg[1][0])).attr("y2", y(p.reg[1][1]))
        .attr("stroke", "#666").attr("stroke-width", 3)
        .attr("stroke-dasharray", "12,8,3,8");

    g.append("line")
        .attr("x1", x(0)).attr("y1", y(0))
        .attr("x2", x(p.red)).attr("y2", y(p.red))
        .attr("stroke", "#ff1010").attr("stroke-width", 4);

    g.selectAll("circle")
      .data(p.data)
      .enter()
      .append("circle")
        .attr("cx", d => x(d[0]))
        .attr("cy", d => y(d[1]))
        .attr("r", heavy ? 6 : 6.2)
        .attr("fill", "none")
        .attr("stroke", "#111")
        .attr("stroke-opacity", 0.85)
        .attr("stroke-width", heavy ? 3.4 : 2.7);
  }

  if (p.kind === "rel") {
    const line = d3.line().x(d => x(d[0])).y(d => y(d[1])).curve(d3.curveCatmullRom.alpha(0.5));

    // black curve of the observed quantiles
    g.append("path")
        .datum(p.data)
        .attr("d", line)
        .attr("fill", "none")
        .attr("stroke", "#141414")
        .attr("stroke-width", p.w)
        .attr("stroke-linecap", "round")
        .attr("stroke-linejoin", "round");

    // guides at p=0.1 and p=0.9
    const left = -0.02, low = -0.015;
    [[0.1, p.guide[0]], [0.9, p.guide[1]]].forEach(function(d) {
      g.append("line")
          .attr("x1", x(left)).attr("x2", x(d[0]))
          .attr("y1", y(d[1])).attr("y2", y(d[1]))
          .attr("stroke", "#222").attr("stroke-width", 2.6).attr("stroke-dasharray", "11,9");
      g.append("line")
          .attr("x1", x(d[0])).attr("x2", x(d[0]))
          .attr("y1", y(d[1])).attr("y2", y(low))
          .attr("stroke", "#222").attr("stroke-width", 2.6).attr("stroke-dasharray", "11,9");
    });

    g.append("line")
        .attr("x1", x(0)).attr("y1", y(0))
        .attr("x2", x(1)).attr("y2", y(1))
        .attr("stroke", "#ff1414").attr("stroke-width", p.col > 1 ? 4.5 : 3.5);
  }

  if (p.kind === "sharp") {
    const e = p.ends;

    g.append("path")
        .attr("d", `M${x(0)},${y(0)} L${x(e.xEnd)},${y(e.greyHi)} L${x(e.xEnd)},${y(e.greyLo)} Z`)
        .attr("fill", "#ebe7e6");

    grid(g);

    g.append("path")
        .attr("d", `M${x(0)},${y(0)} L${x(e.xEnd)},${y(e.blueHi)} L${x(e.xEnd)},${y(e.blueLo)} Z`)
        .attr("fill", "#add8e6");

    // outer limits of the grey area
    g.append("line")
        .attr("x1", x(0)).attr("y1", y(0)).attr("x2", x(e.xEnd)).attr("y2", y(e.greyHi))
        .attr("stroke", "#555").attr("stroke-width", 2.6);
    g.append("line")
        .attr("x1", x(0)).attr("y1", y(0)).attr("x2", x(e.xEnd)).attr("y2", y(e.greyLo))
        .attr("stroke", heavy ? "#666" : "#333").attr("stroke-width", heavy ? 4 : 2.6)
        .attr("stroke-dasharray", e.greyLo === 0 ? "9,4" : "10,2");
    g.append("line")
        .attr("x1", x(e.xEnd)).attr("y1", y(e.greyLo)).attr("x2", x(e.xEnd)).attr("y2", y(e.blueLo))
        .attr("stroke", "#999").attr("stroke-width", 3.5);
    g.append("line")
        .attr("x1", x(e.xEnd)).attr("y1", y(e.greyHi)).attr("x2", x(e.xEnd)).attr("y2", y(e.blueHi))
        .attr("stroke", "#888").attr("stroke-width", 2.5);

    // limits of the blue area
    g.append("line")
        .attr("x1", x(0)).attr("y1", y(0)).attr("x2", x(e.xEnd)).attr("y2", y(e.blueHi))
        .attr("stroke", "#4d4dff").attr("stroke-width", 2.8);
    g.append("line")
        .attr("x1", x(0)).attr("y1", y(0)).attr("x2", x(e.xEnd)).attr("y2", y(e.blueLo))
        .attr("stroke", "#4d4dff").attr("stroke-width", 2.8);
    g.append("line")
        .attr("x1", x(e.xEnd)).attr("y1", y(e.blueLo)).attr("x2", x(e.xEnd)).attr("y2", y(e.blueHi))
        .attr("stroke", "#7f7fe8").attr("stroke-width", 3.5);

    g.selectAll("line.bar")
      .data(p.data)
      .enter()
      .append("line")
        .attr("class", "bar")
        .attr("x1", d => x(d[0])).attr("x2", d => x(d[0]))
        .attr("y1", d => y(d[1])).attr("y2", d => y(d[2]))
        .attr("stroke", "#0000ff")
        .attr("stroke-width", p.w);

    g.append("line")
        .attr("x1", x(0)).attr("y1", y(0))
        .attr("x2", x(e.xEnd)).attr("y2", y(e.red))
        .attr("stroke", "#ff1428").attr("stroke-width", 5.5);
  }

  // frame
  svg.append("rect")
      .attr("x", fx0).attr("y", fy0)
      .attr("width", fx1 - fx0).attr("height", fy1 - fy0)
      .attr("fill", "none").attr("stroke", ink).attr("stroke-width", heavy ? 3.5 : 2.6);

  // axes
  const xTicks = p.kind === "rel" ? probTicks : p.xt;
  const yTicks = p.kind === "rel" ? probTicks : p.yt;
  const xFmt = p.kind === "rel" ? (d => probLabels.includes(d) ? String(d) : "") : (d => d);

  const xAxis = svg.append("g")
      .attr("transform", `translate(0,${fy1})`)
      .call(d3.axisBottom(x).tickValues(xTicks).tickSize(20).tickFormat(xFmt));
  const yAxis = svg.append("g")
      .attr("transform", `translate(${fx0},0)`)
      .call(d3.axisLeft(y).tickValues(yTicks).tickSize(14).tickPadding(11).tickFormat(d => d));

  [xAxis, yAxis].forEach(function(a) {
    a.select(".domain").remove();
    a.selectAll("line").attr("stroke", ink).attr("stroke-width", heavy ? 3.5 : 2.4);
    a.selectAll("text")
        .attr("fill", textInk)
        .style("font-family", tickFont)
        .style("font-size", "29px");
  });
  xAxis.selectAll("text").attr("y", p.lblY - fy1).attr("dy", 0);

  // axis titles
  boldText(p.xlab, p.xl[0], p.xl[1], p.xl[2], 31);
  if (p.ylab) {
    svg.append("text")
        .attr("transform", `translate(${p.yl[0]},${p.yl[1]}) rotate(-90)`)
        .attr("text-anchor", "middle")
        .attr("textLength", p.yl[2])
        .attr("lengthAdjust", "spacingAndGlyphs")
        .style("font-family", sansBold)
        .style("font-weight", 700)
        .style("font-size", "31px")
        .text(p.ylab);
  }

  if (p.note) {
    svg.append("text")
        .attr("x", p.noteBox[0]).attr("y", p.noteBox[1])
        .attr("textLength", p.noteBox[2])
        .attr("lengthAdjust", "spacingAndGlyphs")
        .attr("fill", textInk)
        .style("font-family", plotFont)
        .style("font-size", "26px")
        .text(p.note);
  }

  if (p.title) {
    svg.append("text")
        .attr("x", p.title[0]).attr("y", p.title[1])
        .attr("text-anchor", "middle")
        .attr("textLength", 50)
        .attr("lengthAdjust", "spacingAndGlyphs")
        .attr("fill", "#000")
        .style("font-family", plotFont)
        .style("font-weight", 700)
        .style("font-size", "36px")
        .text("J+2");
  }
});

</script>
</body>
</html>
